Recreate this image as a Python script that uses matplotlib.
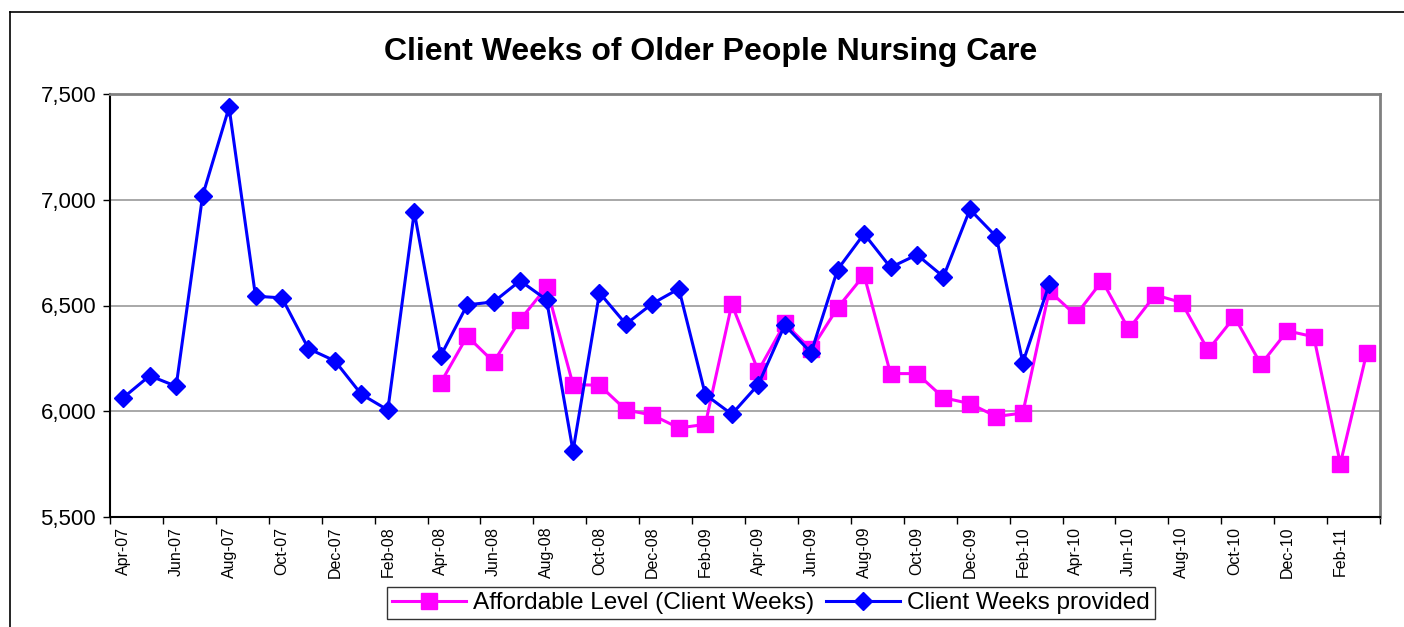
import numpy as np
import matplotlib
matplotlib.use("Agg")
import matplotlib.pyplot as plt
from matplotlib.lines import Line2D

months = ["Apr-07", "May-07", "Jun-07", "Jul-07", "Aug-07", "Sep-07", "Oct-07", "Nov-07", "Dec-07", "Jan-08", "Feb-08", "Mar-08",
          "Apr-08", "May-08", "Jun-08", "Jul-08", "Aug-08", "Sep-08", "Oct-08", "Nov-08", "Dec-08", "Jan-09", "Feb-09", "Mar-09",
          "Apr-09", "May-09", "Jun-09", "Jul-09", "Aug-09", "Sep-09", "Oct-09", "Nov-09", "Dec-09", "Jan-10", "Feb-10", "Mar-10",
          "Apr-10", "May-10", "Jun-10", "Jul-10", "Aug-10", "Sep-10", "Oct-10", "Nov-10", "Dec-10", "Jan-11", "Feb-11", "Mar-11"]

provided = [6064, 6168, 6118, 7019, 7437, 6544, 6536, 6296, 6238, 6080, 6006, 6942,
            6262, 6503, 6517, 6617, 6527, 5812, 6560, 6412, 6509, 6579, 6079, 5986,
            6126, 6407, 6277, 6670, 6839, 6680, 6740, 6636, 6954, 6825, 6230, 6601,
            None, None, None, None, None, None, None, None, None, None, None, None]

affordable = [None, None, None, None, None, None, None, None, None, None, None, None,
              6135, 6355, 6233, 6432, 6587, 6126, 6123, 6006, 5982, 5921, 5938, 6506,
              6191, 6415, 6292, 6489, 6644, 6178, 6178, 6064, 6036, 5975, 5992, 6569,
              6454, 6617, 6388, 6550, 6514, 6289, 6446, 6222, 6380, 6352, 5752, 6277]

yticks = [5500, 6000, 6500, 7000, 7500]

W, H = 1404, 627
fig = plt.figure(figsize=(W / 100, H / 100), dpi=100)
fig.patch.set_facecolor("white")

# outer chart border (left and top edges visible)
fig.add_artist(Line2D([9.5 / W, 9.5 / W], [0, 1 - 11.5 / H], transform=fig.transFigure, color="black", linewidth=1.2))
fig.add_artist(Line2D([9.5 / W, 1], [1 - 11.5 / H, 1 - 11.5 / H], transform=fig.transFigure, color="black", linewidth=1.2))

left, right, top, bottom = 110, 1380, 94, 517
ax = fig.add_axes([left / W, 1 - bottom / H, (right - left) / W, (bottom - top) / H])

x = np.arange(len(months))
aff = np.array([np.nan if v is None else v for v in affordable], dtype=float)
prov = np.array([np.nan if v is None else v for v in provided], dtype=float)

ax.plot(x, aff, color="#FF00FF", linewidth=2.2, marker="s", markersize=11,
        markerfacecolor="#FF00FF", markeredgecolor="#FF00FF", label="Affordable Level (Client Weeks)", zorder=3)
ax.plot(x, prov, color="#0000FF", linewidth=2.2, marker="D", markersize=9.5,
        markerfacecolor="#0000FF", markeredgecolor="#0000FF", label="Client Weeks provided", zorder=4)

ax.set_xlim(-0.5, len(months) - 0.5)
ax.set_ylim(5500, 7500)
ax.set_yticks(yticks)
ax.set_yticklabels([f"{v:,}" for v in yticks], fontsize=16, family="Liberation Sans")
ax.yaxis.grid(True, color="#999999", linewidth=1.2)
ax.set_axisbelow(True)

ax.set_xticks(x[::2])
ax.set_xticklabels(months[::2], rotation=90, fontsize=11.5, family="Liberation Sans")
ax.set_xticks(np.arange(-0.5, len(months), 2), minor=True)
ax.tick_params(axis="x", which="major", length=0, pad=7)
ax.tick_params(axis="x", which="minor", length=5, width=1, color="black", direction="out")
ax.tick_params(axis="y", length=5, width=1, direction="out", pad=5)

for s in ["top", "right"]:
    ax.spines[s].set_color("#808080")
    ax.spines[s].set_linewidth(2)
for s in ["left", "bottom"]:
    ax.spines[s].set_color("black")
    ax.spines[s].set_linewidth(1.5)

fig.text(711 / W, 1 - 52 / H, "Client Weeks of Older People Nursing Care", ha="center", va="center",
         fontsize=23, fontweight="bold", family="Liberation Sans")

leg = fig.legend(loc="center", bbox_to_anchor=(771 / W, 1 - 603 / H), ncol=2, frameon=True,
                 fancybox=False, edgecolor="black", handlelength=3, columnspacing=0.5, handletextpad=0.3,
                 borderpad=0.2, prop={"family": "Liberation Sans", "size": 17.6})
leg.get_frame().set_linewidth(1.0)

fig.savefig("out.png", dpi=100, facecolor="white")
